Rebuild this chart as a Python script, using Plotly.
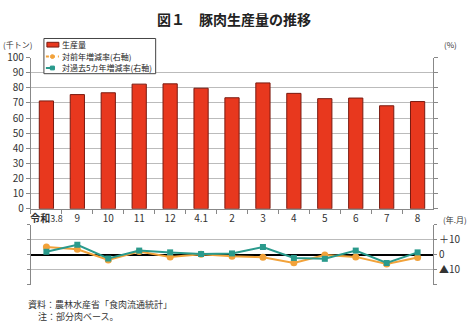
import plotly.graph_objects as go

categories = ["令和3.8", "9", "10", "11", "12", "4.1", "2", "3", "4", "5", "6", "7", "8"]
production = [71.3, 75.5, 76.7, 82.4, 82.6, 79.7, 73.4, 83.2, 76.3, 72.8, 73.2, 68.1, 70.9]
yoy_rate = [5.3, 3.8, -3.4, 2.3, -1.3, 0.4, -0.9, -1.5, -5.3, 0.0, -1.3, -6.0, -1.7]
five_year_rate = [2.1, 6.8, -2.4, 2.9, 1.7, 0.6, 1.0, 5.3, -2.0, -2.6, 2.9, -5.4, 1.7]
left_ticks = list(range(0, 101, 10))
right_tickvals = [-20, -10, 0, 10, 20]
right_ticktext = ["", "▲10", "0", "＋10", ""]
legend_names = ["生産量", "対前年増減率(右軸)", "対過去5カ年増減率(右軸)"]
tick_text = ["<b>令和</b><span style='font-size:9px'>3.8</span>"] + categories[1:]

FONT = "Noto Sans CJK JP"
W, H = 467, 329
def px_x(p): return p / W
def px_y(p): return 1 - p / H

BAR_C = "#E8381E"
ORANGE = "#F2A23A"
TEAL = "#2A9A8C"

fig = go.Figure()
fig.add_trace(go.Bar(
    x=categories, y=production, name=legend_names[0],
    marker=dict(color=BAR_C, line=dict(color="#7A1A10", width=1)),
    width=0.46, xaxis="x", yaxis="y",
))
fig.add_trace(go.Scatter(
    x=categories, y=yoy_rate, name=legend_names[1], mode="lines+markers",
    line=dict(color=ORANGE, width=2), marker=dict(symbol="circle", size=7, color=ORANGE),
    xaxis="x2", yaxis="y2",
))
fig.add_trace(go.Scatter(
    x=categories, y=five_year_rate, name=legend_names[2], mode="lines+markers",
    line=dict(color=TEAL, width=2), marker=dict(symbol="square", size=6, color=TEAL),
    xaxis="x2", yaxis="y2",
))

dom_x = [px_x(30), px_x(433)]
fig.update_layout(
    width=W, height=H, margin=dict(l=0, r=0, t=0, b=0),
    paper_bgcolor="white", plot_bgcolor="white",
    font=dict(family=FONT, size=10, color="#333"),
    showlegend=False,
    xaxis=dict(domain=dom_x, anchor="y", type="category", range=[-0.5, 12.5],
               tickson="boundaries", ticks="outside", ticklen=4, tickcolor="#888",
               tickangle=0, showline=True, linecolor="#888", showgrid=False,
               tickvals=categories, ticktext=tick_text,
               tickfont=dict(size=10, color="#333")),
    yaxis=dict(domain=[px_y(210), px_y(51)], anchor="x", range=[0, 100],
               tickvals=left_ticks, ticks="outside", ticklen=4, tickcolor="#888",
               showline=True, linecolor="#888", mirror="ticks",
               showgrid=True, gridcolor="#BBBBBB", gridwidth=1,
               tickfont=dict(size=10, color="#333")),
    xaxis2=dict(domain=dom_x, anchor="y2", type="category", range=[-0.5, 12.5],
                showticklabels=False, ticks="", showline=False, showgrid=False),
    yaxis2=dict(domain=[px_y(290), px_y(227)], anchor="x2", range=[-20, 20],
                side="right", tickvals=right_tickvals, ticktext=right_ticktext,
                ticks="outside", ticklen=3, tickcolor="#888",
                showline=True, linecolor="#888", mirror="ticks",
                showgrid=True, gridcolor="#BBBBBB", gridwidth=1,
                zeroline=True, zerolinecolor="black", zerolinewidth=2,
                tickfont=dict(size=10, color="#333")),
)

annotations = [
    dict(text="<b>図１　豚肉生産量の推移</b>", x=0.5, y=px_y(10), xanchor="center", yanchor="middle",
         font=dict(size=14, color="#222", family=FONT), showarrow=False),
    dict(text="(千トン)", x=px_x(0), y=px_y(37), xanchor="left", yanchor="middle",
         font=dict(size=8, color="#333"), showarrow=False),
    dict(text="(%)", x=px_x(459), y=px_y(37), xanchor="right", yanchor="middle",
         font=dict(size=8, color="#333"), showarrow=False),
    dict(text="(年.月)", x=px_x(441), y=px_y(221), xanchor="left", yanchor="middle",
         font=dict(size=8, color="#333"), showarrow=False),
    dict(text="資料：農林水産省「食肉流通統計」", x=px_x(25), y=px_y(311), xanchor="left", yanchor="middle",
         font=dict(size=9, color="#333"), showarrow=False),
    dict(text="注：部分肉ベース。", x=px_x(35), y=px_y(323), xanchor="left", yanchor="middle",
         font=dict(size=9, color="#333"), showarrow=False),
]

# custom compact legend
shapes = [
    dict(type="rect", x0=px_x(43), x1=px_x(155), y0=px_y(68), y1=px_y(31),
         line=dict(color="#444", width=1), fillcolor="white", layer="above"),
    dict(type="rect", x0=px_x(46), x1=px_x(58), y0=px_y(40), y1=px_y(35),
         line=dict(color="#7A1A10", width=1), fillcolor=BAR_C, layer="above"),
]
leg_y = [37.5, 50, 62]
for i, (name, yy) in enumerate(zip(legend_names, leg_y)):
    annotations.append(dict(text=name, x=px_x(59), y=px_y(yy), xanchor="left", yanchor="middle",
                            font=dict(size=8, color="#222"), showarrow=False))
    if i > 0:
        col = ORANGE if i == 1 else TEAL
        shapes.append(dict(type="line", x0=px_x(45), x1=px_x(58), y0=px_y(yy), y1=px_y(yy),
                           line=dict(color=col, width=2, dash="dot" if i == 1 else "dash"), layer="above"))
        shapes.append(dict(type="circle" if i == 1 else "rect",
                           x0=px_x(49.5), x1=px_x(53.5), y0=px_y(yy + 2), y1=px_y(yy - 2),
                           line=dict(color=col, width=1), fillcolor=col, layer="above"))

for a in annotations:
    a.update(xref="paper", yref="paper")
for s in shapes:
    s.update(xref="paper", yref="paper")
fig.update_layout(annotations=annotations, shapes=shapes)

fig.write_html("out.html", post_script="document.body.style.margin='0';")
